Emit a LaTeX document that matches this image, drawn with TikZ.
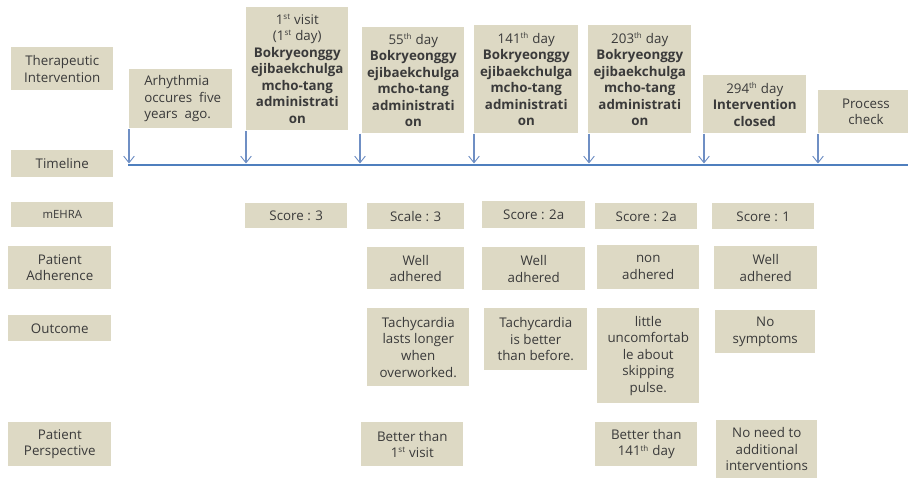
\documentclass[tikz,border=0pt]{standalone}
\usepackage{fontspec}
\setmainfont{Open Sans}
\usetikzlibrary{arrows.meta}
\definecolor{boxfill}{HTML}{DDD9C4}
\definecolor{txt}{HTML}{3A3A3A}
\definecolor{tline}{HTML}{4F7FBE}
\definecolor{arr}{HTML}{6F8FC4}
\def\px{0.75pt}
\tikzset{
  box/.style={fill=boxfill, text=txt, align=center, inner sep=0pt, anchor=north west,
    font=\fontsize{10}{12.4}\selectfont},
  tick/.style={draw=arr, line width=0.8pt, -{Straight Barb[length=5pt,width=8pt,line width=0.7pt]}},
}
\newcommand{\bx}[6]{\node[box, minimum width=#4*\px, minimum height=#5*\px] (#1) at (#2,#3) {#6};}
\newcommand{\supx}[1]{\textsuperscript{\fontsize{6}{6}\selectfont #1}}
\begin{document}
\begin{tikzpicture}[x=0.75pt,y=-0.75pt]
\useasboundingbox (0,0) rectangle (908,478);
% row labels
\bx{lti}{11}{47}{102}{43}{Therapeutic\\Intervention}
\bx{ltl}{11}{150}{102}{27}{Timeline}
\bx{lme}{11}{202}{102}{25}{\fontsize{8.5}{10}\selectfont mEHRA}
\bx{lpa}{8}{246}{103}{43}{Patient\\Adherence}
\bx{lou}{8}{315}{103}{26}{Outcome}
\bx{lpp}{8}{422}{103}{44}{Patient\\Perspective}
% intervention boxes
\node[box, minimum width=103*\px, minimum height=59*\px, align=left] (a0) at (129,69)
  {\hspace*{3pt}Arhythmia\\\hspace*{3pt}occures\ \ five\\\hspace*{3pt}years\ \ ago.};
\bx{a1}{246}{7}{102}{123}{1\supx{st} visit\\(1\supx{st} day)\\\textbf{Bokryeonggy}\\\textbf{ejibaekchulga}\\\textbf{mcho-tang}\\\textbf{administrati}\\\textbf{on}}
\bx{a2}{362}{27}{102}{106}{55\supx{th} day\\\textbf{Bokryeonggy}\\\textbf{ejibaekchulga}\\\textbf{mcho-tang}\\\textbf{administrati}\\\textbf{on}}
\bx{a3}{474}{25}{104}{108}{141\supx{th} day\\\textbf{Bokryeonggy}\\\textbf{ejibaekchulga}\\\textbf{mcho-tang}\\\textbf{administrati}\\\textbf{on}}
\bx{a4}{588}{25}{103}{108}{203\supx{th} day\\\textbf{Bokryeonggy}\\\textbf{ejibaekchulga}\\\textbf{mcho-tang}\\\textbf{administrati}\\\textbf{on}}
\bx{a5}{703}{75}{103}{58}{294\supx{th} day\\\textbf{Intervention}\\\textbf{closed}}
\bx{a6}{818}{90}{90}{43}{\hspace*{4pt}Process\\\hspace*{4pt}check}
% timeline
\coordinate (ts) at (128,165);
\coordinate (te) at (908,165);
\draw[tline, line width=1.6pt] (ts) -- (te);
\foreach \n/\xx in {a0/129,a1/246,a2/360,a3/474,a4/589,a5/704,a6/818}{
  \coordinate (t\n) at (\xx,163.5);
  \draw[tick] (\xx,0 |- \n.south) -- (t\n);
}
% mEHRA
\bx{m1}{245}{203}{102}{25}{Score : 3}
\bx{m2}{367}{203}{97}{26}{Scale : 3}
\bx{m3}{482}{201}{103}{27}{Score : 2a}
\bx{m4}{595}{203}{102}{26}{Score : 2a}
\bx{m5}{712}{203}{102}{26}{Score : 1}
% adherence
\bx{p2}{367}{247}{97}{42}{Well\\adhered}
\bx{p3}{482}{247}{103}{43}{Well\\adhered}
\bx{p4}{597}{245}{102}{44}{non\\adhered}
\bx{p5}{714}{246}{103}{43}{Well\\adhered}
% outcome
\bx{o2}{367}{308}{102}{78}{Tachycardia\\lasts longer\\when\\overworked.}
\bx{o3}{484}{308}{103}{62}{Tachycardia\\is better\\than before.}
\bx{o4}{597}{308}{102}{95}{little\\uncomfortab\\le about\\skipping\\pulse.}
\bx{o5}{715}{310}{100}{43}{No\\symptoms}
% perspective
\bx{q2}{361}{422}{102}{44}{Better than\\1\supx{st} visit}
\bx{q4}{595}{422}{102}{44}{Better than\\141\supx{th} day}
\bx{q5}{716}{420}{101}{58}{No need to\\additional\\interventions}
\end{tikzpicture}
\end{document}
